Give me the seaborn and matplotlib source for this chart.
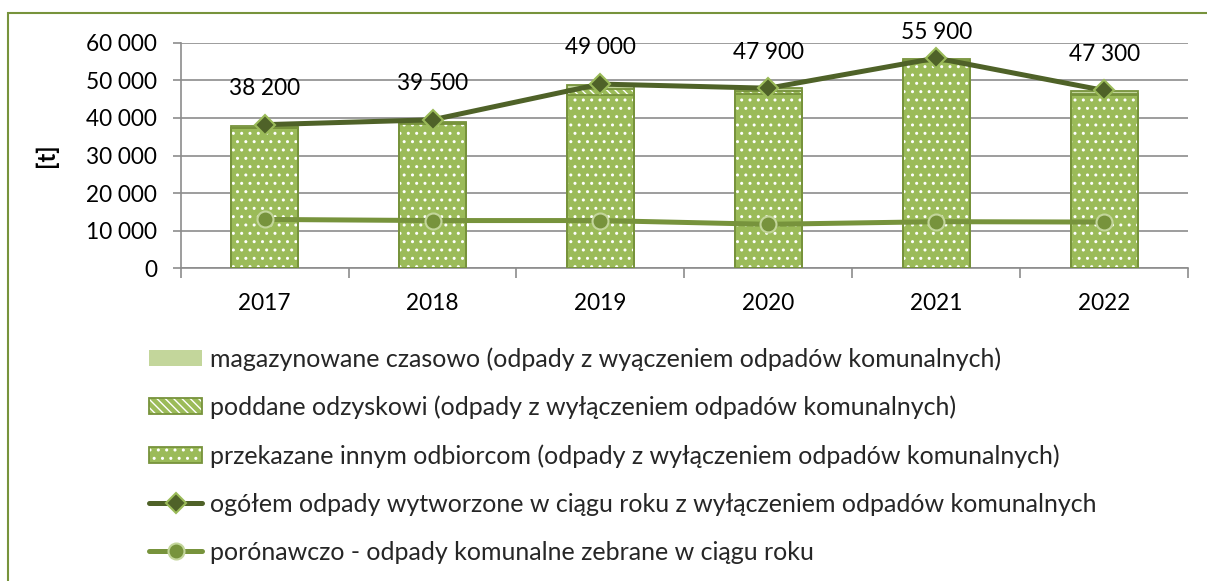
import matplotlib
matplotlib.use("Agg")
import matplotlib.pyplot as plt
from matplotlib.patches import Patch, Rectangle
from matplotlib.lines import Line2D
from matplotlib.legend_handler import HandlerTuple
from matplotlib.ticker import FuncFormatter, FixedLocator
import numpy as np
import pandas as pd
import seaborn as sns

# --- data -------------------------------------------------------------
years = ["2017", "2018", "2019", "2020", "2021", "2022"]
przekazane = [37200, 38400, 46100, 46400, 55000, 46200]
poddane = [200, 200, 1500, 800, 200, 200]
magazynowane = [400, 400, 1100, 700, 400, 800]
ogolem = [38200, 39500, 49000, 47900, 55900, 47300]
komunalne = [13000, 12700, 12700, 11700, 12400, 12300]

y_ticks = [0, 10000, 20000, 30000, 40000, 50000, 60000]

labels = [
    "magazynowane czasowo (odpady z wyączeniem odpadów komunalnych)",
    "poddane odzyskowi (odpady z wyłączeniem odpadów komunalnych)",
    "przekazane innym odbiorcom (odpady z wyłączeniem odpadów komunalnych)",
    "ogółem odpady wytworzone w ciągu roku z wyłączeniem odpadów komunalnych",
    "porónawczo - odpady komunalne zebrane w ciągu roku",
]

# --- colours ----------------------------------------------------------
C_DOT = "#9BBB59"
C_EDGE = "#77933C"
C_LIGHT = "#C3D69B"
C_DARK = "#4F6228"
C_GRID = "#8C8C8C"

FS_TICK = 16.3
FS_LEG = 18

sns.set_theme(style="white")
plt.rcParams["font.family"] = ["Lato", "DejaVu Sans"]
plt.rcParams["hatch.linewidth"] = 1.0

df = pd.DataFrame({
    "rok": years,
    "przekazane": przekazane,
    "poddane": poddane,
    "magazynowane": magazynowane,
    "ogolem": ogolem,
    "komunalne": komunalne,
})
df["lvl1"] = df["przekazane"]
df["lvl2"] = df["lvl1"] + df["poddane"]
df["lvl3"] = df["lvl2"] + df["magazynowane"]

fig = plt.figure(figsize=(12.07, 5.81), dpi=100)
ax = fig.add_axes([0.1497, 0.5382, 0.8346, 0.3883])

BW = 0.40
# stacked bars: draw the cumulative tops first, lower layers over them
sns.barplot(data=df, x="rok", y="lvl3", color=C_LIGHT, saturation=1, width=BW,
            linewidth=0, errorbar=None, ax=ax, zorder=2)
sns.barplot(data=df, x="rok", y="lvl2", color=C_DOT, saturation=1, width=BW,
            hatch="\\\\\\\\", edgecolor="white", linewidth=0, errorbar=None, ax=ax, zorder=2)
sns.barplot(data=df, x="rok", y="lvl1", color=C_DOT, saturation=1, width=BW,
            hatch="..", edgecolor="white", linewidth=0, errorbar=None, ax=ax, zorder=2)
for col in ["lvl3", "lvl2", "lvl1"]:
    sns.barplot(data=df, x="rok", y=col, color=C_EDGE, fill=False, width=BW,
                linewidth=1.3, errorbar=None, ax=ax, zorder=3)

# lines
sns.pointplot(data=df, x="rok", y="komunalne", color=C_EDGE, markers="o",
              errorbar=None, ax=ax, linewidth=3.6, markersize=11.5,
              markeredgecolor=C_LIGHT, markeredgewidth=1.5, markerfacecolor=C_EDGE,
              zorder=4)
sns.pointplot(data=df, x="rok", y="ogolem", color=C_DARK, markers="D",
              errorbar=None, ax=ax, linewidth=3.6, markersize=10.5,
              markeredgecolor=C_DOT, markeredgewidth=1.5, markerfacecolor=C_DARK,
              zorder=5)

def fmt(v, pos=None):
    return f"{int(round(v)):,}".replace(",", " ")

# value labels above the total line, kept inside the plot area at the top
LABEL_GAP = 9600
LABEL_MAX = 62600
for i, v in enumerate(ogolem):
    ax.text(i, min(v + LABEL_GAP, LABEL_MAX), fmt(v), ha="center", va="center",
            fontsize=FS_TICK, color="black", zorder=6, clip_on=False)

# axes
ax.set_xlim(-0.5, len(years) - 0.5)
ax.set_ylim(0, 60000)
ax.yaxis.set_major_locator(FixedLocator(y_ticks))
ax.yaxis.set_major_formatter(FuncFormatter(fmt))
ax.grid(axis="y", color=C_GRID, linewidth=1.2, zorder=0)
ax.set_axisbelow(True)

ax.xaxis.set_major_locator(FixedLocator(np.arange(-0.5, len(years), 1.0)))
ax.xaxis.set_minor_locator(FixedLocator(np.arange(len(years))))
ax.set_xticklabels([], minor=False)
ax.set_xticklabels(years, minor=True)
ax.tick_params(axis="x", which="major", length=7, width=1.2, color=C_GRID, direction="out", bottom=True)
ax.tick_params(axis="x", which="minor", length=0, pad=18, labelsize=FS_TICK, labelcolor="black")
ax.tick_params(axis="y", which="major", length=6, width=1.2, color=C_GRID, direction="out",
               left=True, pad=11, labelsize=FS_TICK, labelcolor="black")
ax.set_xlabel("")
ax.set_ylabel("[t]", fontsize=17, fontweight="bold", color="black")
ax.yaxis.set_label_coords(-0.122, 0.5)

for s in ["top", "right"]:
    ax.spines[s].set_visible(False)
for s in ["left", "bottom"]:
    ax.spines[s].set_color(C_GRID)
    ax.spines[s].set_linewidth(1.2)

if ax.get_legend() is not None:
    ax.get_legend().remove()

# legend
h_mag = (Patch(facecolor=C_LIGHT, edgecolor="none", linewidth=0),)
h_pod = (Patch(facecolor=C_DOT, edgecolor="white", hatch="\\\\\\\\", linewidth=0),
         Patch(fill=False, edgecolor=C_EDGE, linewidth=1.3))
h_prz = (Patch(facecolor=C_DOT, edgecolor="white", hatch="..", linewidth=0),
         Patch(fill=False, edgecolor=C_EDGE, linewidth=1.3))
h_og = Line2D([], [], color=C_DARK, linewidth=3.6, marker="D", markersize=10.5,
              markerfacecolor=C_DARK, markeredgecolor=C_DOT, markeredgewidth=1.5)
h_kom = Line2D([], [], color=C_EDGE, linewidth=3.6, marker="o", markersize=11.5,
               markerfacecolor=C_EDGE, markeredgecolor=C_LIGHT, markeredgewidth=1.5)
fig.legend([h_mag, h_pod, h_prz, h_og, h_kom], labels,
           handler_map={tuple: HandlerTuple(ndivide=1, pad=0)},
           loc="upper left", bbox_to_anchor=(149 / 1207, 1 - 347 / 581),
           frameon=False, fontsize=FS_LEG, handlelength=2.12, handleheight=0.62,
           handletextpad=0.32, labelspacing=1.0, borderpad=0, borderaxespad=0)

# outer frame (top and left edges visible)
fig.add_artist(Rectangle((8 / 1207, -0.1), 1.2, 1.1 - 13 / 581, transform=fig.transFigure,
                         fill=False, edgecolor=C_EDGE, linewidth=1.5))

fig.savefig("out.png", dpi=100)
